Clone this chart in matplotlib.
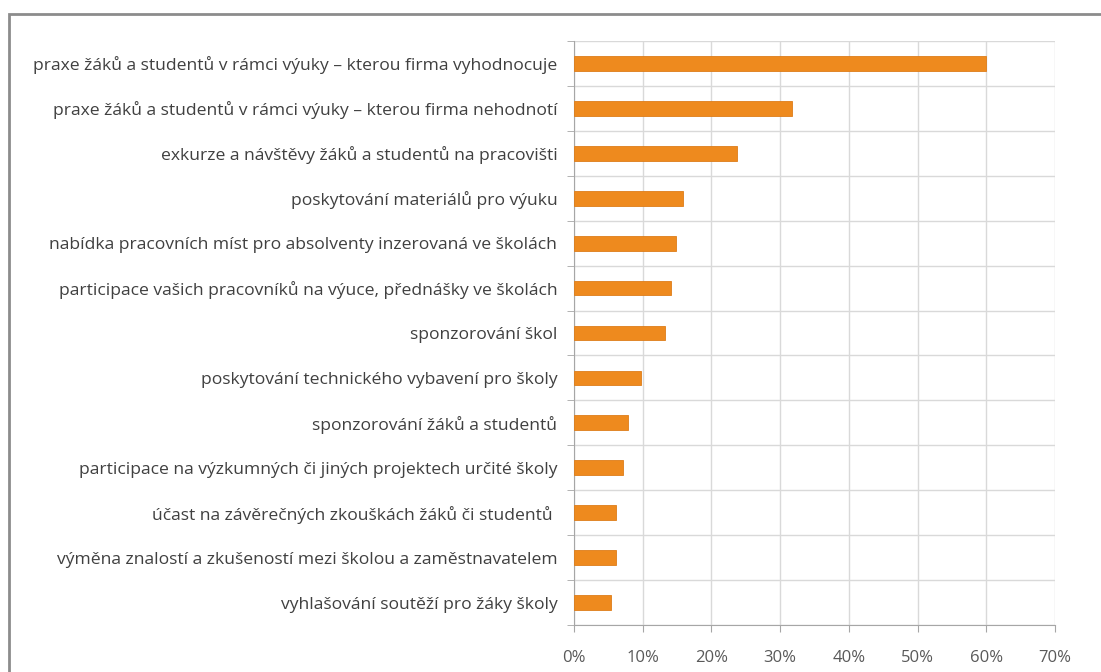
import numpy as np
import matplotlib.pyplot as plt
from matplotlib.patches import Rectangle
from matplotlib.ticker import FixedLocator, PercentFormatter

# data (percent of firms)
categories = [
    "praxe žáků a studentů v rámci výuky – kterou firma vyhodnocuje",
    "praxe žáků a studentů v rámci výuky – kterou firma nehodnotí",
    "exkurze a návštěvy žáků a studentů na pracovišti",
    "poskytování materiálů pro výuku",
    "nabídka pracovních míst pro absolventy inzerovaná ve školách",
    "participace vašich pracovníků na výuce, přednášky ve školách",
    "sponzorování škol",
    "poskytování technického vybavení pro školy",
    "sponzorování žáků a studentů",
    "participace na výzkumných či jiných projektech určité školy",
    "účast na závěrečných zkouškách žáků či studentů ",
    "výměna znalostí a zkušeností mezi školou a zaměstnavatelem",
    "vyhlašování soutěží pro žáky školy",
]
shares = [60.0, 31.7, 23.7, 15.8, 14.9, 14.1, 13.2, 9.7, 7.9, 7.1, 6.1, 6.1, 5.4]
x_ticks = [0, 10, 20, 30, 40, 50, 60, 70]

plt.rcParams['font.family'] = ['Open Sans', 'DejaVu Sans']

fig = plt.figure(figsize=(11.01, 6.72), dpi=100, facecolor='white')
ax = fig.add_axes([574 / 1101, 1 - 625 / 672, (1055 - 574) / 1101, (625 - 41) / 672])

# outer frame (only top and left edges visible in the crop)
fig.patches.append(Rectangle((9 / 1101, -0.1), 1.2, (672 - 14) / 672 + 0.1,
                             transform=fig.transFigure, fill=False,
                             edgecolor='#8c8c8c', lw=2, zorder=0))

y = np.arange(len(categories))
ax.barh(y, shares, height=0.33, color='#EE8A1E', edgecolor='#DD7D1A', lw=0.6, zorder=3)

ax.set_xlim(0, 70)
ax.set_ylim(len(categories) - 0.5, -0.5)

ax.set_xticks(x_ticks)
ax.xaxis.set_major_formatter(PercentFormatter(decimals=0))
ax.set_yticks(y)
ax.set_yticklabels(categories)
ax.yaxis.set_minor_locator(FixedLocator(np.arange(len(categories) + 1) - 0.5))

ax.tick_params(axis='y', which='major', length=0, pad=12, labelsize=12.6, labelcolor='#404040')
ax.tick_params(axis='y', which='minor', length=5, color='#a6a6a6')
ax.tick_params(axis='x', which='major', length=5, color='#a6a6a6', pad=13,
               labelsize=12, labelcolor='#595959')

ax.grid(axis='x', which='major', color='#d9d9d9', lw=1, zorder=0)
ax.grid(axis='y', which='minor', color='#d9d9d9', lw=1, zorder=0)
ax.set_axisbelow(True)

for side in ['top', 'right']:
    ax.spines[side].set_visible(False)
for side in ['left', 'bottom']:
    ax.spines[side].set_color('#a6a6a6')

fig.savefig('out.png', dpi=100, facecolor='white')
